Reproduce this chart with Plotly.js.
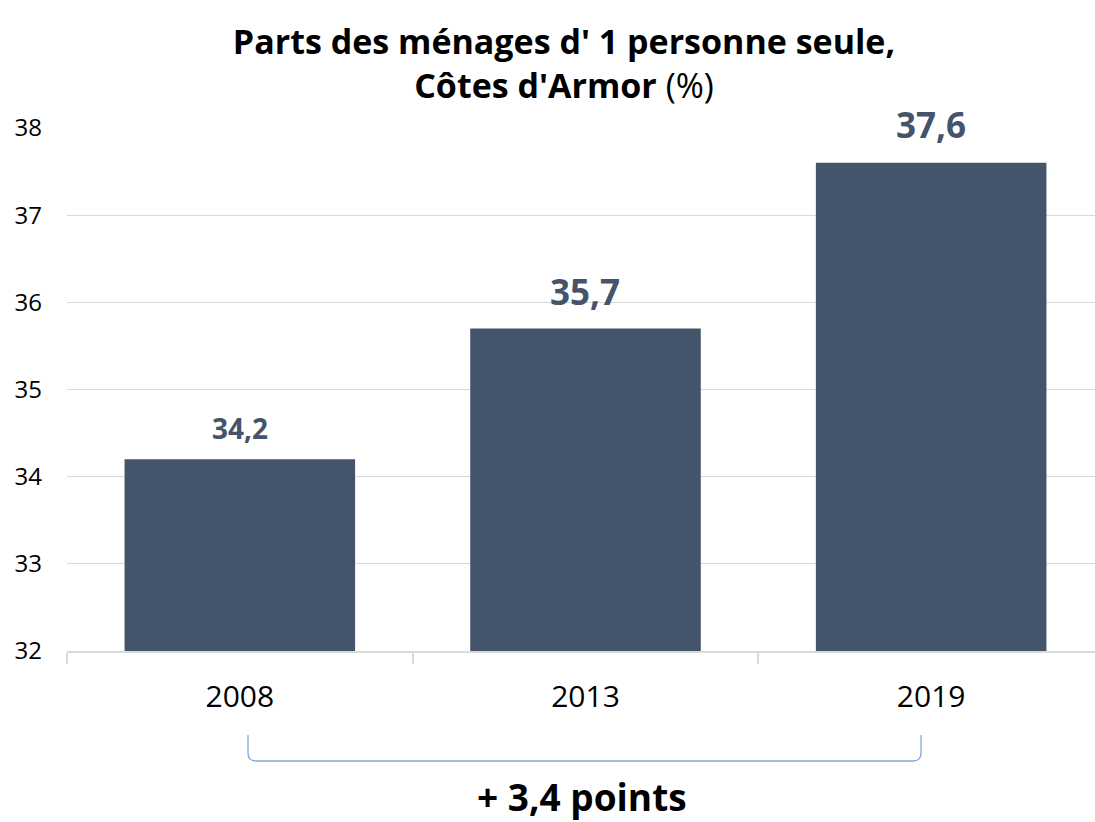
<!DOCTYPE html>
<html>
<head>
<meta charset="utf-8">
<script src="https://cdn.plot.ly/plotly-3.0.1.min.js"></script>
<style>html,body{margin:0;padding:0;background:#fff;}#chart{width:1095px;height:822px;}</style>
</head>
<body>
<div id="chart"></div>
<script>
const years = ['2008', '2013', '2019'];
const shares = [34.2, 35.7, 37.6];
const labelSizes = [28, 35, 35];
const yTicks = [32, 33, 34, 35, 36, 37, 38];
const changeLabel = '+ 3,4 points';

const FONT = '"Open Sans", sans-serif';
const BAR = '#44546a';

const trace = {
  type: 'bar',
  x: years,
  y: shares,
  width: 0.667,
  marker: {color: BAR},
  hoverinfo: 'x+y'
};

const labelShift = [31, 37, 38];
const annotations = years.map((yr, i) => ({
  x: i, y: shares[i], xref: 'x', yref: 'y',
  text: '<b>' + shares[i].toFixed(1).replace('.', ',') + '</b>',
  showarrow: false, yanchor: 'middle', yshift: labelShift[i],
  font: {family: FONT, size: labelSizes[i], color: BAR}
}));
annotations.push({
  xref: 'paper', yref: 'paper', x: (582 - 67) / 1028, y: (651 - 796) / 523,
  xanchor: 'center', yanchor: 'middle', showarrow: false,
  text: '<b>' + changeLabel + '</b>',
  font: {family: FONT, size: 37, color: '#000'}
});

function px(xp) { return (xp - 67) / 1028; }
function py(yp) { return (651 - yp) / 523; }
const r = 8;
const bracket = {
  type: 'path', xref: 'paper', yref: 'paper',
  path: `M ${px(248)} ${py(735)} L ${px(248)} ${py(761 - r)} Q ${px(248)} ${py(761)} ${px(248 + r)} ${py(761)} L ${px(921 - r)} ${py(761)} Q ${px(921)} ${py(761)} ${px(921)} ${py(761 - r)} L ${px(921)} ${py(735)}`,
  line: {color: '#7fa9d9', width: 1.3}
};

const layout = {
  width: 1095, height: 822,
  margin: {l: 67, r: 0, t: 128, b: 171},
  paper_bgcolor: '#fff', plot_bgcolor: '#fff',
  separators: ', ',
  showlegend: false,
  font: {family: FONT, color: '#000'},
  title: {
    text: '<b>Parts des ménages d\' 1 personne seule,</b><br><b>Côtes d\'Armor</b> (%)',
    x: 564 / 1095, xanchor: 'center', xref: 'container',
    y: 1 - 54 / 822, yanchor: 'middle', yref: 'container',
    font: {family: FONT, size: 34, color: '#000'}
  },
  xaxis: {
    type: 'category',
    range: [-0.5, 2.474],
    showline: true, linecolor: '#d9d9d9', linewidth: 1.5,
    ticks: 'outside', tickson: 'boundaries', ticklen: 11, tickcolor: '#d9d9d9', tickwidth: 1.5,
    ticklabelstandoff: 18,
    tickfont: {family: FONT, size: 30, color: '#000'},
    showgrid: false, fixedrange: true
  },
  yaxis: {
    range: [32, 38],
    tickvals: yTicks,
    ticktext: yTicks.map(String),
    showgrid: true, gridcolor: '#d9d9d9', gridwidth: 1,
    zeroline: false, showline: false, ticks: '',
    ticklabelstandoff: 24,
    tickfont: {family: FONT, size: 24, color: '#000'},
    fixedrange: true
  },
  annotations: annotations,
  shapes: [bracket]
};

Plotly.newPlot('chart', [trace], layout, {displayModeBar: false, responsive: false});
</script>
</body>
</html>
